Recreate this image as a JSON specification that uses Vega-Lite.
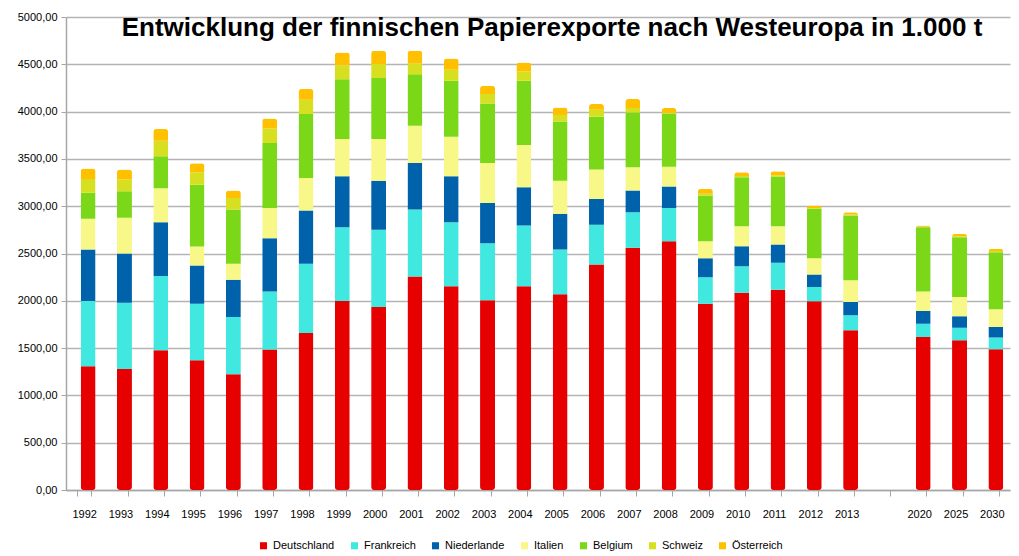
{
  "$schema": "https://vega.github.io/schema/vega-lite/v6.json",
  "autosize": "none",
  "width": 944,
  "height": 473,
  "padding": {"left": 66, "top": 17, "right": 9, "bottom": 66},
  "background": "white",
  "title": {
    "text": "Entwicklung der finnischen Papierexporte nach Westeuropa in 1.000 t",
    "font": "Liberation Sans",
    "fontSize": 26,
    "fontWeight": "bold",
    "color": "#000000",
    "anchor": "middle",
    "dx": 14,
    "offset": -30
  },
  "datasets": {
    "ord": [
      {"Land": "Deutschland", "k": 1},
      {"Land": "Frankreich", "k": 2},
      {"Land": "Niederlande", "k": 3},
      {"Land": "Italien", "k": 4},
      {"Land": "Belgium", "k": 5},
      {"Land": "Schweiz", "k": 6},
      {"Land": "Österreich", "k": 7}
    ]
  },
  "data": {
    "values": [
      {"Jahr": "1992", "Deutschland": 1308, "Frankreich": 690, "Niederlande": 545, "Italien": 325, "Belgium": 275, "Schweiz": 145, "Österreich": 110},
      {"Jahr": "1993", "Deutschland": 1280, "Frankreich": 700, "Niederlande": 520, "Italien": 377, "Belgium": 281, "Schweiz": 123, "Österreich": 106},
      {"Jahr": "1994", "Deutschland": 1477, "Frankreich": 784, "Niederlande": 570, "Italien": 358, "Belgium": 338, "Schweiz": 166, "Österreich": 122},
      {"Jahr": "1995", "Deutschland": 1372, "Frankreich": 598, "Niederlande": 404, "Italien": 200, "Belgium": 654, "Schweiz": 130, "Österreich": 95},
      {"Jahr": "1996", "Deutschland": 1224, "Frankreich": 604, "Niederlande": 395, "Italien": 169, "Belgium": 573, "Schweiz": 123, "Österreich": 77},
      {"Jahr": "1997", "Deutschland": 1484, "Frankreich": 615, "Niederlande": 563, "Italien": 320, "Belgium": 686, "Schweiz": 154, "Österreich": 106},
      {"Jahr": "1998", "Deutschland": 1660, "Frankreich": 732, "Niederlande": 562, "Italien": 345, "Belgium": 675, "Schweiz": 151, "Österreich": 113},
      {"Jahr": "1999", "Deutschland": 1997, "Frankreich": 781, "Niederlande": 538, "Italien": 394, "Belgium": 633, "Schweiz": 148, "Österreich": 133},
      {"Jahr": "2000", "Deutschland": 1934, "Frankreich": 816, "Niederlande": 520, "Italien": 440, "Belgium": 644, "Schweiz": 148, "Österreich": 140},
      {"Jahr": "2001", "Deutschland": 2258, "Frankreich": 707, "Niederlande": 492, "Italien": 394, "Belgium": 545, "Schweiz": 116, "Österreich": 130},
      {"Jahr": "2002", "Deutschland": 2155, "Frankreich": 676, "Niederlande": 485, "Italien": 419, "Belgium": 591, "Schweiz": 116, "Österreich": 119},
      {"Jahr": "2003", "Deutschland": 2005, "Frankreich": 604, "Niederlande": 426, "Italien": 422, "Belgium": 629, "Schweiz": 99, "Österreich": 88},
      {"Jahr": "2004", "Deutschland": 2155, "Frankreich": 641, "Niederlande": 404, "Italien": 447, "Belgium": 679, "Schweiz": 98, "Österreich": 95},
      {"Jahr": "2005", "Deutschland": 2068, "Frankreich": 475, "Niederlande": 376, "Italien": 351, "Belgium": 626, "Schweiz": 68, "Österreich": 80},
      {"Jahr": "2006", "Deutschland": 2384, "Frankreich": 419, "Niederlande": 274, "Italien": 310, "Belgium": 559, "Schweiz": 73, "Österreich": 61},
      {"Jahr": "2007", "Deutschland": 2560, "Frankreich": 376, "Niederlande": 229, "Italien": 246, "Belgium": 580, "Schweiz": 46, "Österreich": 95},
      {"Jahr": "2008", "Deutschland": 2630, "Frankreich": 352, "Niederlande": 225, "Italien": 211, "Belgium": 556, "Schweiz": 17, "Österreich": 46},
      {"Jahr": "2009", "Deutschland": 1970, "Frankreich": 280, "Niederlande": 201, "Italien": 179, "Belgium": 482, "Schweiz": 20, "Österreich": 51},
      {"Jahr": "2010", "Deutschland": 2086, "Frankreich": 280, "Niederlande": 211, "Italien": 211, "Belgium": 517, "Schweiz": 15, "Österreich": 38},
      {"Jahr": "2011", "Deutschland": 2117, "Frankreich": 285, "Niederlande": 193, "Italien": 193, "Belgium": 525, "Schweiz": 15, "Österreich": 41},
      {"Jahr": "2012", "Deutschland": 1994, "Frankreich": 151, "Niederlande": 134, "Italien": 172, "Belgium": 521, "Schweiz": 10, "Österreich": 25},
      {"Jahr": "2013", "Deutschland": 1688, "Frankreich": 158, "Niederlande": 141, "Italien": 229, "Belgium": 685, "Schweiz": 10, "Österreich": 25},
      {"Jahr": " ", "Deutschland": 0, "Frankreich": 0, "Niederlande": 0, "Italien": 0, "Belgium": 0, "Schweiz": 0, "Österreich": 0},
      {"Jahr": "2020", "Deutschland": 1618, "Frankreich": 140, "Niederlande": 134, "Italien": 207, "Belgium": 679, "Schweiz": 5, "Österreich": 13},
      {"Jahr": "2025", "Deutschland": 1583, "Frankreich": 133, "Niederlande": 120, "Italien": 203, "Belgium": 633, "Schweiz": 10, "Österreich": 26},
      {"Jahr": "2030", "Deutschland": 1488, "Frankreich": 123, "Niederlande": 112, "Italien": 187, "Belgium": 604, "Schweiz": 12, "Österreich": 24}
    ]
  },
  "transform": [
    {"fold": ["Deutschland", "Frankreich", "Niederlande", "Italien", "Belgium", "Schweiz", "Österreich"], "as": ["Land", "t"]},
    {"lookup": "Land", "from": {"data": {"name": "ord"}, "key": "Land", "fields": ["k"]}}
  ],
  "mark": {"type": "bar", "width": 15, "cornerRadius": 3, "xOffset": 4},
  "encoding": {
    "x": {
      "field": "Jahr",
      "type": "nominal",
      "sort": null,
      "scale": {"paddingInner": 0.6, "paddingOuter": 0.3},
      "axis": {
        "title": null,
        "labelAngle": 0,
        "labelFont": "Liberation Sans",
        "labelFontSize": 11,
        "labelColor": "#000000",
        "labelPadding": 12,
        "tickBand": "extent",
        "tickSize": 6,
        "tickColor": "#a6a6a6",
        "domainColor": "#a6a6a6",
        "domainWidth": 1.5,
        "grid": false
      }
    },
    "y": {
      "field": "t",
      "type": "quantitative",
      "stack": "zero",
      "scale": {"domain": [0, 5000], "nice": false},
      "axis": {
        "title": null,
        "values": [0, 500, 1000, 1500, 2000, 2500, 3000, 3500, 4000, 4500, 5000],
        "labelExpr": "replace(format(datum.value, '.2f'), '.', ',')",
        "labelFont": "Liberation Sans",
        "labelFontSize": 11,
        "labelColor": "#000000",
        "labelPadding": 4,
        "tickSize": 5,
        "tickColor": "#a6a6a6",
        "domainColor": "#a6a6a6",
        "domainWidth": 1.5,
        "gridColor": "#b4b4b4",
        "gridWidth": 1.5
      }
    },
    "color": {
      "field": "Land",
      "type": "nominal",
      "sort": ["Deutschland", "Frankreich", "Niederlande", "Italien", "Belgium", "Schweiz", "Österreich"],
      "scale": {
        "domain": ["Deutschland", "Frankreich", "Niederlande", "Italien", "Belgium", "Schweiz", "Österreich"],
        "range": ["#e60000", "#40e8e0", "#0062aa", "#f8f888", "#7ad818", "#d6e020", "#ffc000"]
      },
      "legend": {
        "title": null,
        "orient": "none",
        "legendX": 192,
        "legendY": 523,
        "direction": "horizontal",
        "symbolType": "square",
        "symbolSize": 50,
        "symbolStrokeWidth": 0,
        "labelFont": "Liberation Sans",
        "labelFontSize": 11,
        "labelColor": "#000000",
        "columnPadding": 14
      }
    },
    "order": {"field": "k", "type": "quantitative", "sort": "ascending"}
  },
  "config": {"view": {"stroke": null}}
}
